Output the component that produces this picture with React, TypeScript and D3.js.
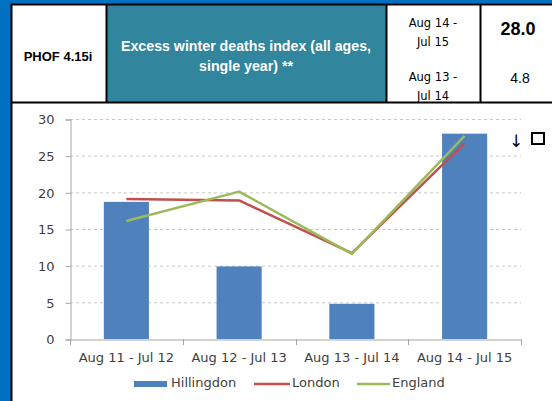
import { useEffect, useRef } from 'react';
import * as d3 from 'd3';

const periods = ['Aug 11 - Jul 12', 'Aug 12 - Jul 13', 'Aug 13 - Jul 14', 'Aug 14 - Jul 15'];
const hillingdon = [18.7, 9.9, 4.8, 28.0];
const london = [19.1, 18.9, 11.7, 26.7];
const england = [16.1, 20.1, 11.6, 27.7];
const yTicks = [0, 5, 10, 15, 20, 25, 30];

const W = 552;
const H = 401;
const chartFont = '"DejaVu Sans", sans-serif';
const arial = '"Liberation Sans", Arial, sans-serif';

const App = () => {
  const svgRef = useRef<SVGSVGElement>(null);

  useEffect(() => {
    const svg = d3.select(svgRef.current);
    svg.selectAll('*').remove();

    // fondo azul y panel blanco
    svg.append('rect').attr('width', W).attr('height', H).attr('fill', '#0070C0');
    svg.append('rect').attr('x', 12).attr('y', 5).attr('width', W - 12).attr('height', H - 5).attr('fill', '#fff');

    // cabecera tipo tabla
    svg.append('rect').attr('x', 107).attr('y', 5).attr('width', 279).attr('height', 97).attr('fill', '#31859C');
    const lines: [number, number, number, number][] = [
      [11, 4.5, W, 4.5],
      [11.5, 4, 11.5, H],
      [106.5, 4, 106.5, 103],
      [386.5, 4, 386.5, 103],
      [480.5, 4, 480.5, 103],
      [11, 102.5, W, 102.5],
    ];
    svg.selectAll('.hline')
      .data(lines)
      .enter()
      .append('line')
      .attr('x1', d => d[0]).attr('y1', d => d[1])
      .attr('x2', d => d[2]).attr('y2', d => d[3])
      .attr('stroke', '#000')
      .attr('stroke-width', 2);

    svg.append('text')
      .attr('x', 58).attr('y', 61)
      .attr('text-anchor', 'middle')
      .style('font-family', arial).style('font-size', '13px').style('font-weight', 'bold')
      .text('PHOF 4.15i');

    const title = svg.append('text')
      .attr('text-anchor', 'middle')
      .style('font-family', arial).style('font-size', '14.2px').style('font-weight', 'bold')
      .attr('fill', '#fff');
    title.append('tspan').attr('x', 246).attr('y', 51).text('Excess winter deaths index (all ages,');
    title.append('tspan').attr('x', 246).attr('y', 71).text('single year) **');

    const dateText = (x: number, y: number, a: string, b: string) => {
      const t = svg.append('text').attr('text-anchor', 'middle')
        .style('font-family', chartFont).style('font-size', '11.5px');
      t.append('tspan').attr('x', x).attr('y', y).text(a);
      t.append('tspan').attr('x', x).attr('y', y + 19).text(b);
    };
    dateText(433, 27, 'Aug 14 -', 'Jul 15');
    dateText(433, 81, 'Aug 13 -', 'Jul 14');

    svg.append('text')
      .attr('x', 518).attr('y', 35).attr('text-anchor', 'middle')
      .style('font-family', arial).style('font-size', '18px').style('font-weight', 'bold')
      .text(hillingdon[3].toFixed(1));
    svg.append('text')
      .attr('x', 520).attr('y', 83).attr('text-anchor', 'middle')
      .style('font-family', arial).style('font-size', '14px')
      .text(hillingdon[2].toFixed(1));

    // grafico
    const x = d3.scaleBand().domain(periods).range([70, 521]);
    const y = d3.scaleLinear().domain([0, 30]).range([339, 119]);

    const g = svg.append('g');

    g.selectAll('.grid')
      .data(yTicks.filter(d => d > 0))
      .enter()
      .append('line')
      .attr('x1', 70).attr('x2', 521)
      .attr('y1', d => y(d) + 0.5).attr('y2', d => y(d) + 0.5)
      .attr('stroke', '#c8c8c8')
      .attr('stroke-dasharray', '3,3');

    const yAxis = g.append('g')
      .attr('transform', 'translate(70.5,0.5)')
      .call(d3.axisLeft(y).tickValues(yTicks).tickSize(5).tickPadding(11));
    const xAxis = g.append('g')
      .attr('transform', 'translate(0,339.5)')
      .call(d3.axisBottom(x).tickSize(0).tickPadding(13));
    [yAxis, xAxis].forEach(ax => {
      ax.select('.domain').attr('stroke', '#a6a6a6');
      ax.selectAll('.tick line').attr('stroke', '#a6a6a6');
      ax.selectAll('text').attr('fill', '#404040')
        .style('font-family', chartFont).style('font-size', '13px');
    });
    g.selectAll('.xtick')
      .data([...periods.map(p => x(p) as number), 521])
      .enter()
      .append('line')
      .attr('x1', d => Math.round(d) + 0.5).attr('x2', d => Math.round(d) + 0.5)
      .attr('y1', 339).attr('y2', 345)
      .attr('stroke', '#a6a6a6');

    const bw = x.bandwidth() * 0.4;
    g.selectAll('.bar')
      .data(hillingdon)
      .enter()
      .append('rect')
      .attr('x', (d, i) => (x(periods[i]) as number) + x.bandwidth() / 2 - bw / 2)
      .attr('y', d => y(d))
      .attr('width', bw)
      .attr('height', d => y(0) - y(d))
      .attr('fill', '#4F81BD');

    const line = d3.line<number>()
      .x((d, i) => (x(periods[i]) as number) + x.bandwidth() / 2)
      .y(d => y(d));
    [[london, '#C0504D'], [england, '#9BBB59']].forEach(([vals, col]) => {
      g.append('path')
        .attr('d', line(vals as number[]))
        .attr('fill', 'none')
        .attr('stroke', col as string)
        .attr('stroke-width', 2.5)
        .attr('stroke-linejoin', 'round');
    });

    // leyenda
    const legend = svg.append('g').style('font-family', chartFont).style('font-size', '13px');
    legend.append('rect').attr('x', 134).attr('y', 381).attr('width', 33).attr('height', 6).attr('fill', '#4F81BD');
    legend.append('text').attr('x', 171).attr('y', 387).attr('fill', '#404040').text('Hillingdon');
    legend.append('line').attr('x1', 254).attr('x2', 290).attr('y1', 384).attr('y2', 384)
      .attr('stroke', '#C0504D').attr('stroke-width', 2.5);
    legend.append('text').attr('x', 292).attr('y', 387).attr('fill', '#404040').text('London');
    legend.append('line').attr('x1', 357).attr('x2', 390).attr('y1', 384).attr('y2', 384)
      .attr('stroke', '#9BBB59').attr('stroke-width', 2.5);
    legend.append('text').attr('x', 392).attr('y', 387).attr('fill', '#404040').text('England');

    // flecha y casilla
    svg.append('text')
      .attr('x', 516).attr('y', 147).attr('text-anchor', 'middle')
      .style('font-family', chartFont).style('font-size', '17px')
      .text('↓');
    svg.append('rect')
      .attr('x', 532).attr('y', 133).attr('width', 12).attr('height', 11)
      .attr('fill', 'none').attr('stroke', '#000').attr('stroke-width', 2);
  }, []);

  return <svg ref={svgRef} width={W} height={H} style={{ position: 'absolute', left: 0, top: 0 }} />;
};

export default App;
